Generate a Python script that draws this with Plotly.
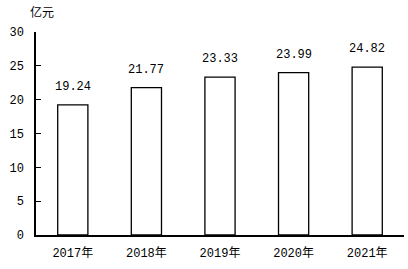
import plotly.graph_objects as go

years = ["2017年", "2018年", "2019年", "2020年", "2021年"]
values = [19.24, 21.77, 23.33, 23.99, 24.82]
y_ticks = [0, 5, 10, 15, 20, 25, 30]

font = "'Liberation Mono', 'Noto Sans CJK SC', monospace"

fig = go.Figure(go.Bar(
    x=years, y=values,
    marker=dict(color="white", line=dict(color="black", width=1.3)),
    width=0.41,
    cliponaxis=False,
))

annotations = [dict(text=f"{v:.2f}", x=c, y=v, xref="x", yref="y",
                    xanchor="center", yanchor="bottom", yshift=9,
                    showarrow=False, font=dict(size=12, family=font, color="black"))
               for c, v in zip(years, values)]
annotations.append(dict(text="亿元", x=0, y=1, xref="paper", yref="paper",
                        xanchor="center", yanchor="bottom", xshift=6, yshift=9,
                        showarrow=False, font=dict(size=12, family=font)))

fig.update_layout(
    width=408, height=269,
    margin=dict(l=36, r=4, t=32, b=34),
    paper_bgcolor="white", plot_bgcolor="white",
    showlegend=False,
    font=dict(family=font, size=12, color="black"),
    annotations=annotations,
)
fig.update_xaxes(showline=True, linecolor="black", linewidth=1.5, ticks="",
                 showgrid=False, tickfont=dict(size=12), ticklabelstandoff=6)
fig.update_yaxes(range=[0, 30], tickvals=y_ticks, showline=True, linecolor="black",
                 linewidth=1.5, ticks="inside", ticklen=5, tickcolor="black",
                 showgrid=False, zeroline=False, tickfont=dict(size=12), ticklabelstandoff=8)

fig.write_html("out.html")
